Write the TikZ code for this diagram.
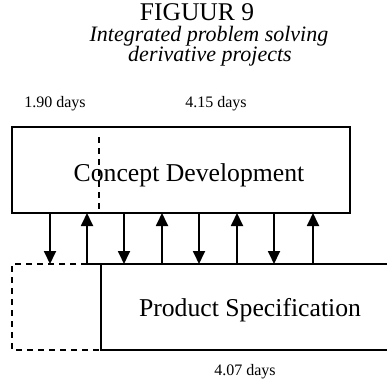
\documentclass[tikz,border=0pt]{standalone}
\usepackage{fontspec}
\setmainfont{Liberation Serif}
\usetikzlibrary{arrows.meta}
\begin{document}
\begin{tikzpicture}[x=1pt,y=-1pt,
  boxline/.style={line width=1.8pt},
  dashline/.style={line width=1.8pt, dash pattern=on 6pt off 5pt},
  flow/.style={line width=1.8pt, -{Triangle[width=12pt,length=13pt]}},
  big/.style={font=\fontsize{25.7}{28}\selectfont, anchor=base, inner sep=0pt},
  small/.style={font=\fontsize{16}{18}\selectfont, anchor=base, inner sep=0pt},
  title/.style={font=\fontsize{25.5}{27}\selectfont, anchor=base, inner sep=0pt},
  sub/.style={font=\fontsize{22}{24}\selectfont\itshape, anchor=base, inner sep=0pt}]
\useasboundingbox (0,0) rectangle (387,382);

% headings
\node[title] (fig) at (197,21) {FIGUUR 9};
\node[sub] (sub1) at (209,42) {Integrated problem solving};
\node[sub] (sub2) at (210,62) {derivative projects};
\node[small] (t1) at (55,108) {1.90 days};
\node[small] (t2) at (216,108) {4.15 days};

% Concept Development box
\node[boxline, draw, minimum width=338pt, minimum height=86pt, inner sep=0pt]
  (cd) at (181,170) {};
\node[big] (cdlabel) at (189,181) {Concept Development};
\coordinate (split top) at (99,137);
\draw[dashline] (split top) -- (split top |- cd.south);

% Product Specification box, open to the right
\coordinate (ps nw) at (101,264);
\coordinate (ps sw) at (101,350);
\coordinate (ps ne) at (387,264);
\coordinate (ps se) at (387,350);
\coordinate (ps top start) at (87,264);
\draw[boxline] (ps top start) -- (ps ne);
\draw[boxline] (ps se) -- (ps sw) -- (ps nw);
\node[big] (pslabel) at (250,316) {Product Specification};
\node[small] (t3) at (245,375) {4.07 days};

% earlier start of Product Specification (dashed)
\coordinate (pre nw) at (12,264);
\coordinate (pre sw) at (12,350);
\draw[dashline] (ps top start) -- (pre nw) -- (pre sw) -- (ps sw);

% information exchange between the two activities
\foreach \xx in {50,87,124,162,199,237,274,313}{
  \coordinate (a\xx) at (\xx,213);
  \coordinate (b\xx) at (\xx,264);
}
\foreach \xx in {50,124,199,274}{\draw[flow] (a\xx) -- (b\xx);}
\foreach \xx in {87,162,237,313}{\draw[flow] (b\xx) -- (a\xx);}
\end{tikzpicture}
\end{document}
